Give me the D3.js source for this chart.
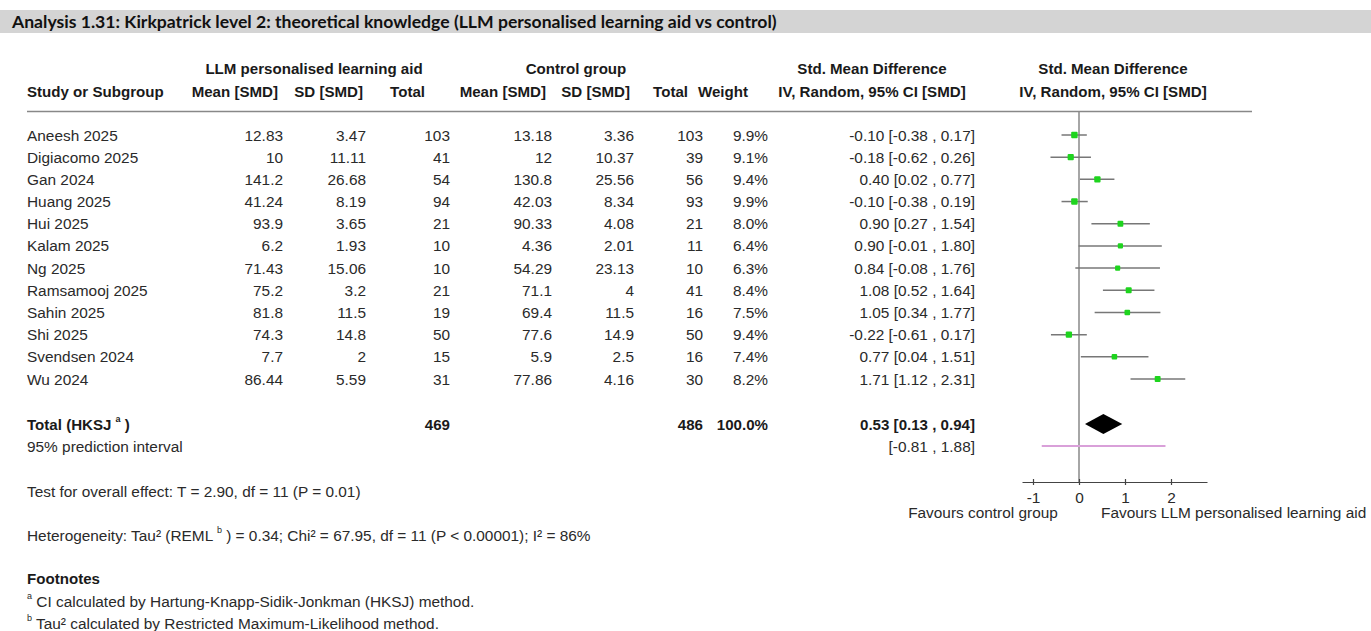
<!DOCTYPE html>
<html>
<head>
<meta charset="utf-8">
<script src="https://cdn.jsdelivr.net/npm/d3@7/dist/d3.min.js"></script>
<style>
  body { margin: 0; background: #fff; }
  svg text { font-family: "Liberation Sans", Arial, sans-serif; font-size: 15.4px; fill: #2a2a2a; }
  .bold { font-weight: 700; font-size: 15.1px; fill: #1a1a1a; }
</style>
</head>
<body>
<svg id="chart" width="1371" height="631"></svg>
<script>
// study rows
const studies = ['Aneesh 2025', 'Digiacomo 2025', 'Gan 2024', 'Huang 2025', 'Hui 2025', 'Kalam 2025',
    'Ng 2025', 'Ramsamooj 2025', 'Sahin 2025', 'Shi 2025', 'Svendsen 2024', 'Wu 2024'];
const expMean = ['12.83', '10', '141.2', '41.24', '93.9', '6.2', '71.43', '75.2', '81.8', '74.3', '7.7', '86.44'];
const expSD = ['3.47', '11.11', '26.68', '8.19', '3.65', '1.93', '15.06', '3.2', '11.5', '14.8', '2', '5.59'];
const expN = [103, 41, 54, 94, 21, 10, 10, 21, 19, 50, 15, 31];
const ctlMean = ['13.18', '12', '130.8', '42.03', '90.33', '4.36', '54.29', '71.1', '69.4', '77.6', '5.9', '77.86'];
const ctlSD = ['3.36', '10.37', '25.56', '8.34', '4.08', '2.01', '23.13', '4', '11.5', '14.9', '2.5', '4.16'];
const ctlN = [103, 39, 56, 93, 21, 11, 10, 41, 16, 50, 16, 30];
const weights = [9.9, 9.1, 9.4, 9.9, 8.0, 6.4, 6.3, 8.4, 7.5, 9.4, 7.4, 8.2];
const smd = [-0.10, -0.18, 0.40, -0.10, 0.90, 0.90, 0.84, 1.08, 1.05, -0.22, 0.77, 1.71];
const ciLow = [-0.38, -0.62, 0.02, -0.38, 0.27, -0.01, -0.08, 0.52, 0.34, -0.61, 0.04, 1.12];
const ciHigh = [0.17, 0.26, 0.77, 0.19, 1.54, 1.80, 1.76, 1.64, 1.77, 0.17, 1.51, 2.31];

// pooled result
const totalExpN = 469, totalCtlN = 486;
const pooled = { est: 0.53, lo: 0.13, hi: 0.94 };
const predInterval = [-0.81, 1.88];
const axisTicks = [-1, 0, 1, 2];

const svg = d3.select('#chart');

// title bar
svg.append('rect').attr('x', 0).attr('y', 10).attr('width', 1371).attr('height', 23).attr('fill', '#d4d4d4');
svg.append('text').attr('x', 12).attr('y', 21.5).attr('dominant-baseline', 'central')
    .style('font-family', 'Lato, "Open Sans", sans-serif').style('font-size', '17.6px').style('font-weight', '700').style('fill', '#111')
    .text('Analysis 1.31: Kirkpatrick level 2: theoretical knowledge (LLM personalised learning aid vs control)');

function txt(x, y, s, anchor, cls) {
    return svg.append('text').attr('x', x).attr('y', y).attr('dominant-baseline', 'central')
        .attr('text-anchor', anchor || 'start').attr('class', cls || null).text(s);
}
function sup(sel, s) {
    sel.append('tspan').attr('baseline-shift', 'super').style('font-size', '9px').text(s);
}

// headers
txt(314, 68, 'LLM personalised learning aid', 'middle', 'bold');
txt(576, 68, 'Control group', 'middle', 'bold');
txt(872, 68, 'Std. Mean Difference', 'middle', 'bold');
txt(1113, 68, 'Std. Mean Difference', 'middle', 'bold');

const hy = 91;
txt(27, hy, 'Study or Subgroup', 'start', 'bold');
txt(278, hy, 'Mean [SMD]', 'end', 'bold');
txt(363, hy, 'SD [SMD]', 'end', 'bold');
txt(425, hy, 'Total', 'end', 'bold');
txt(546, hy, 'Mean [SMD]', 'end', 'bold');
txt(630, hy, 'SD [SMD]', 'end', 'bold');
txt(688, hy, 'Total', 'end', 'bold');
txt(748, hy, 'Weight', 'end', 'bold');
txt(872, hy, 'IV, Random, 95% CI [SMD]', 'middle', 'bold');
txt(1113, hy, 'IV, Random, 95% CI [SMD]', 'middle', 'bold');

svg.append('line').attr('x1', 27).attr('x2', 1252).attr('y1', 111.5).attr('y2', 111.5)
    .attr('stroke', '#888').attr('stroke-width', 1.5);

// row positions
const y = d3.scalePoint().domain(studies).range([135, 379]);
const x = d3.scaleLinear().domain([-1, 2]).range([1033, 1171]);
const fmt = v => d3.format('.2f')(v).replace('−', '-');
const ciText = (e, l, h) => `${fmt(e)} [${fmt(l)} , ${fmt(h)}]`;

const rows = svg.append('g').selectAll('g').data(studies).enter().append('g');
const cols = [
    { x: 27, a: 'start', v: (d, i) => d },
    { x: 283, a: 'end', v: (d, i) => expMean[i] },
    { x: 366, a: 'end', v: (d, i) => expSD[i] },
    { x: 450, a: 'end', v: (d, i) => expN[i] },
    { x: 552, a: 'end', v: (d, i) => ctlMean[i] },
    { x: 634, a: 'end', v: (d, i) => ctlSD[i] },
    { x: 703, a: 'end', v: (d, i) => ctlN[i] },
    { x: 768, a: 'end', v: (d, i) => weights[i].toFixed(1) + '%' },
    { x: 975, a: 'end', v: (d, i) => ciText(smd[i], ciLow[i], ciHigh[i]) }
];
cols.forEach(c => {
    rows.append('text').attr('x', c.x).attr('y', d => y(d)).attr('dominant-baseline', 'central')
        .attr('text-anchor', c.a).text((d, i) => c.v(d, i));
});

// totals
const ty = 424, py = 446;
const tot = txt(27, ty, 'Total (HKSJ ', 'start', 'bold');
sup(tot, 'a');
tot.append('tspan').text(' )');
txt(450, ty, totalExpN, 'end', 'bold');
txt(703, ty, totalCtlN, 'end', 'bold');
txt(768, ty, '100.0%', 'end', 'bold');
txt(975, ty, ciText(pooled.est, pooled.lo, pooled.hi), 'end', 'bold');
txt(27, py, '95% prediction interval');
txt(975, py, `[${fmt(predInterval[0])} , ${fmt(predInterval[1])}]`, 'end');

// forest plot
svg.append('line').attr('x1', x(0)).attr('x2', x(0)).attr('y1', 112).attr('y2', 482)
    .attr('stroke', '#888').attr('stroke-width', 1.5);

const size = d3.scaleSqrt().domain([0, 10]).range([0, 6.5]);
const forest = svg.append('g').selectAll('g').data(studies).enter().append('g');
forest.append('line')
    .attr('x1', (d, i) => x(ciLow[i])).attr('x2', (d, i) => x(ciHigh[i]))
    .attr('y1', d => y(d)).attr('y2', d => y(d))
    .attr('stroke', '#777').attr('stroke-width', 1.5);
forest.append('rect')
    .attr('x', (d, i) => x(smd[i]) - size(weights[i]) / 2)
    .attr('y', (d, i) => y(d) - size(weights[i]) / 2)
    .attr('width', (d, i) => size(weights[i]))
    .attr('height', (d, i) => size(weights[i]))
    .attr('rx', 1)
    .attr('fill', '#1ed41e');

svg.append('path')
    .attr('d', `M${x(pooled.lo)},${ty} L${x(pooled.est)},${ty - 10} L${x(pooled.hi)},${ty} L${x(pooled.est)},${ty + 10} Z`)
    .attr('fill', '#000');

svg.append('line').attr('x1', x(predInterval[0])).attr('x2', x(predInterval[1]))
    .attr('y1', py).attr('y2', py).attr('stroke', '#d9a0d9').attr('stroke-width', 2);

// axis
const axisScale = x.copy().domain([x.invert(1022), x.invert(1207)]).range([1022, 1207]);
const axis = svg.append('g').attr('transform', 'translate(0,482)')
    .call(d3.axisBottom(axisScale).tickValues(axisTicks).tickSize(3).tickSizeOuter(0));
axis.select('.domain').attr('stroke', '#444').attr('stroke-width', 1.2);
axis.selectAll('.tick line').attr('y1', -3).attr('stroke', '#444').attr('stroke-width', 1.2);
axis.selectAll('.tick text').attr('y', 15).attr('dy', null).attr('dominant-baseline', 'central')
    .style('font-size', '15.4px').style('font-family', '"Liberation Sans", Arial, sans-serif').attr('fill', '#222')
    .text(d => String(d).replace('−', '-'));

txt(983, 512, 'Favours control group', 'middle');
txt(1101, 512, 'Favours LLM personalised learning aid', 'start');

// statistics and footnotes
txt(27, 491, 'Test for overall effect: T = 2.90, df = 11 (P = 0.01)');
const het = txt(27, 535, 'Heterogeneity: Tau² (REML ');
sup(het, 'b');
het.append('tspan').text(' ) = 0.34; Chi² = 67.95, df = 11 (P < 0.00001); I² = 86%');

txt(27, 578, 'Footnotes', 'start', 'bold');
const fa = txt(27, 601, '');
sup(fa, 'a');
fa.append('tspan').text(' CI calculated by Hartung-Knapp-Sidik-Jonkman (HKSJ) method.');
const fb = txt(27, 623, '');
sup(fb, 'b');
fb.append('tspan').text(' Tau² calculated by Restricted Maximum-Likelihood method.');
</script>
</body>
</html>
